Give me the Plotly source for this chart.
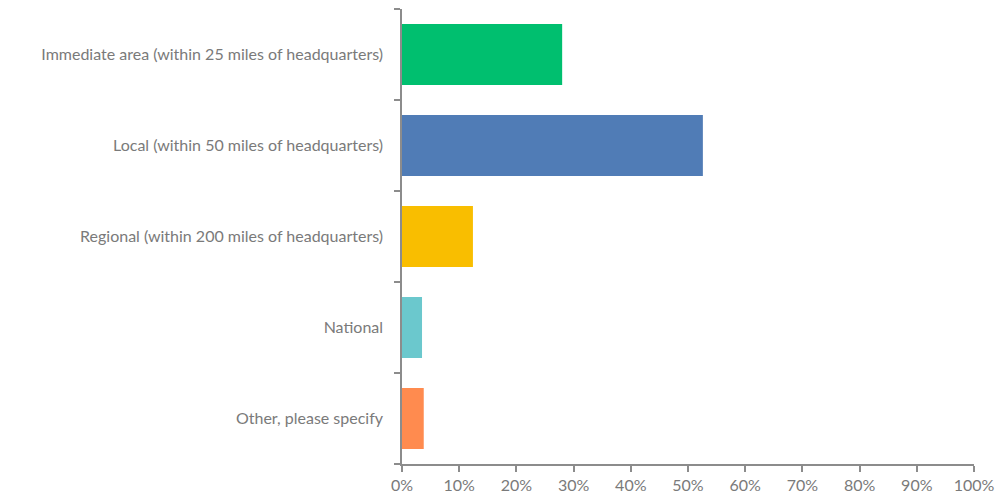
import plotly.graph_objects as go

categories = [
    "Immediate area (within 25 miles of headquarters)",
    "Local (within 50 miles of headquarters)",
    "Regional (within 200 miles of headquarters)",
    "National",
    "Other, please specify",
]
shares = [0.280, 0.526, 0.124, 0.035, 0.038]
bar_colors = ["#00BF6F", "#507CB6", "#F9BE00", "#6BC8CD", "#FF8B4F"]
x_ticks = [i / 10 for i in range(11)]
x_tick_labels = [f"{i * 10}%" for i in range(11)]

axis_gray = "#8C8C8C"
text_gray = "#7A7A7A"

fig = go.Figure(
    go.Bar(
        x=shares,
        y=categories,
        orientation="h",
        marker=dict(color=bar_colors, line=dict(width=0)),
        hoverinfo="x+y",
    )
)

fig.update_layout(
    width=1004,
    height=504,
    margin=dict(l=402, r=26, t=9, b=40),
    paper_bgcolor="white",
    plot_bgcolor="white",
    bargap=0.33,
    showlegend=False,
    font=dict(family="Lato", size=16, color=text_gray),
)

fig.update_xaxes(
    range=[0, 1],
    tickvals=x_ticks,
    ticktext=x_tick_labels,
    showgrid=False,
    zeroline=False,
    showline=True,
    linecolor=axis_gray,
    linewidth=1.5,
    ticks="outside",
    ticklen=6,
    tickcolor=axis_gray,
    tickwidth=1.5,
    tickfont=dict(size=16, color=text_gray),
)

fig.update_yaxes(
    categoryorder="array",
    categoryarray=categories[::-1],
    showgrid=False,
    zeroline=False,
    showline=True,
    linecolor=axis_gray,
    linewidth=1.5,
    ticks="outside",
    tickson="boundaries",
    ticklen=6,
    tickcolor=axis_gray,
    tickwidth=1.5,
    ticklabelstandoff=14,
    tickfont=dict(size=16, color=text_gray),
)

fig.write_html("out.html")
